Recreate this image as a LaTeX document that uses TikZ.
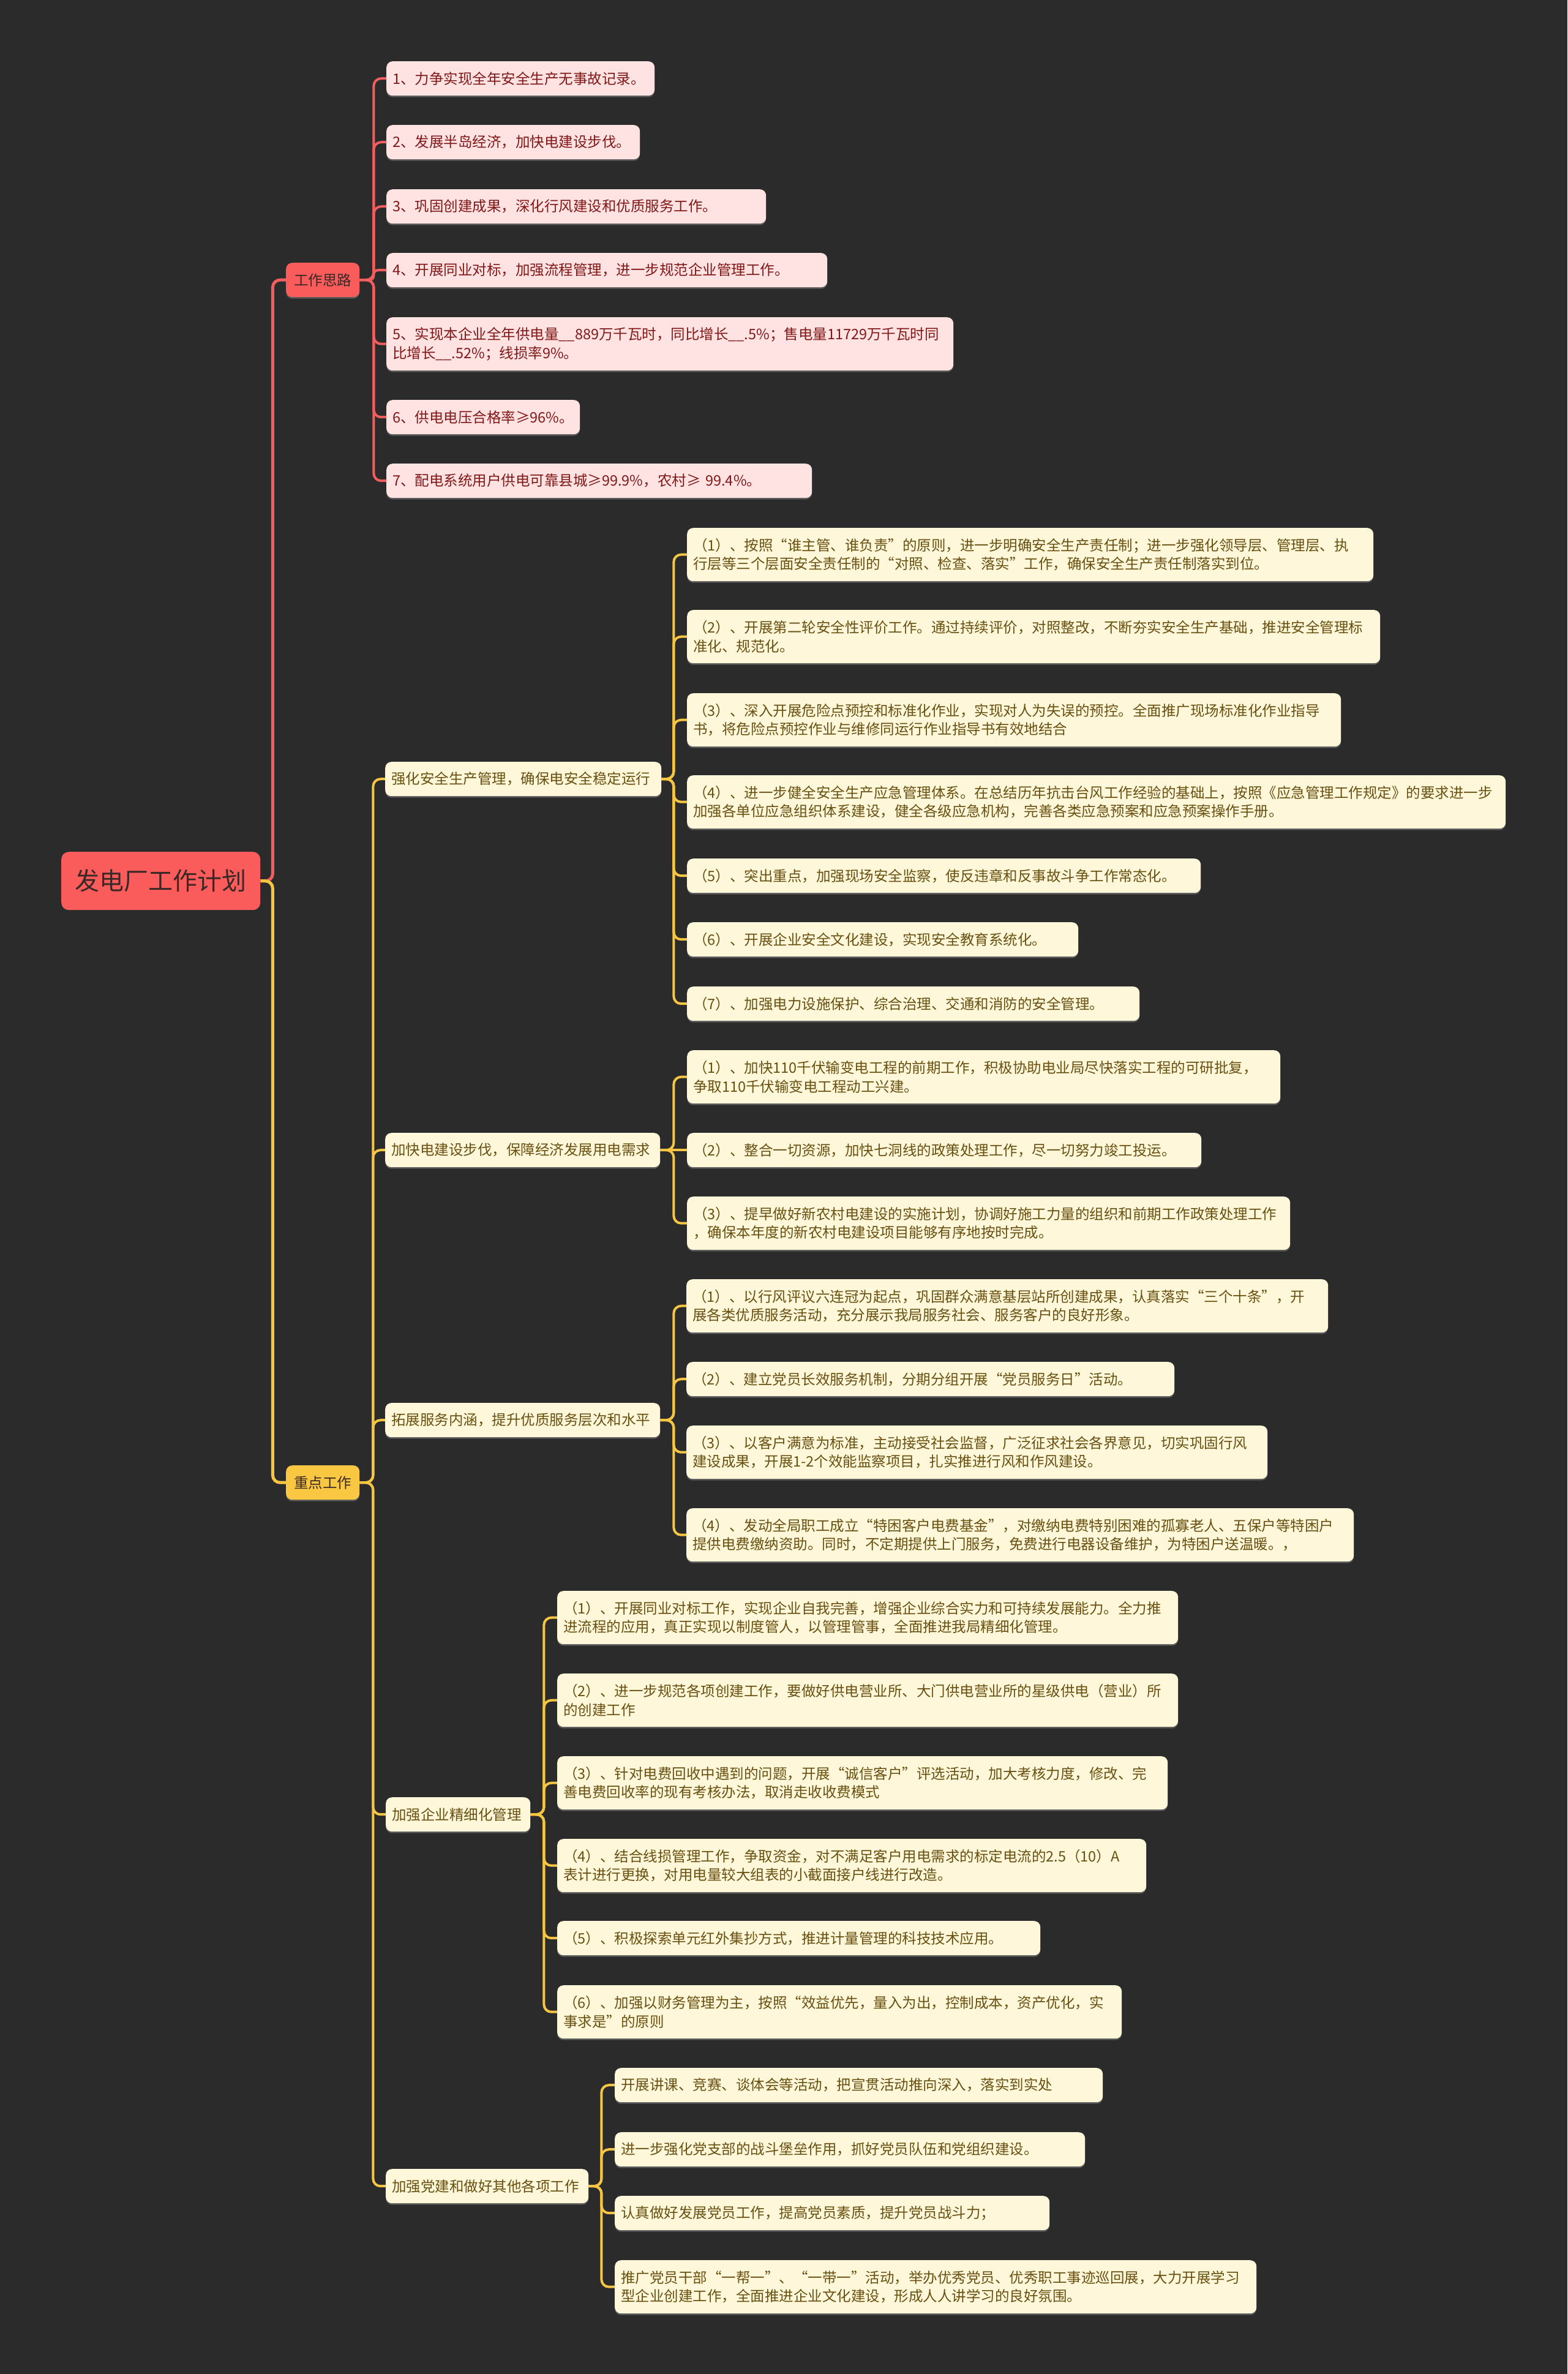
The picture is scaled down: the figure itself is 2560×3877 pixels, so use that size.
\documentclass[tikz,border=0pt]{standalone}
\usepackage{fontspec}
\setmainfont{Noto Sans CJK SC}
\usetikzlibrary{shadows,backgrounds}
\definecolor{bgc}{RGB}{43,43,43}
\definecolor{redfill}{RGB}{250,91,91}
\definecolor{redline}{RGB}{242,94,94}
\definecolor{yelfill}{RGB}{250,199,66}
\definecolor{yelline}{RGB}{246,198,66}
\definecolor{pinkfill}{RGB}{255,226,226}
\definecolor{pinktext}{RGB}{128,24,24}
\definecolor{creamfill}{RGB}{255,247,218}
\definecolor{creamtext}{RGB}{104,80,16}
\definecolor{darktext}{RGB}{58,40,38}
\tikzset{
  sz/.code 2 args={\pgfmathsetmacro\boxtw{#1-20}\pgfkeysalso{text width=\boxtw pt, minimum height=#2pt}},
  basebox/.style={anchor=north west, rounded corners=10pt, align=left, inner xsep=10pt, inner ysep=0pt,
    font=\fontsize{23.5}{30.5}\selectfont,
    drop shadow={shadow xshift=0pt, shadow yshift=-2.5pt, opacity=0.55}},
  pbox/.style={basebox, fill=pinkfill, text=pinktext},
  cbox/.style={basebox, fill=creamfill, text=creamtext},
  lvone/.style={basebox, align=center, inner xsep=13pt, text width=94pt, minimum height=56pt, text=darktext},
  rootbox/.style={anchor=north west, rounded corners=12pt, fill=redfill, text=darktext, align=center,
    text width=281pt, inner xsep=22pt, inner ysep=0pt, minimum height=95pt,
    font=\fontsize{40}{48}\selectfont},
  conn/.style={line width=4pt, rounded corners=12pt},
  rconn/.style={conn, draw=redline},
  yconn/.style={conn, draw=yelline},
}
\begin{document}
\begin{tikzpicture}[x=1pt,y=-1pt]
\useasboundingbox (0,0) rectangle (2560,3877);
\begin{pgfonlayer}{background}
\fill[bgc] (0,0) rectangle (2560,3877);
\end{pgfonlayer}

\node[rootbox] (root) at (100,1391) {发电厂工作计划};
\node[lvone, fill=redfill] (g1) at (467,429) {工作思路};
\node[lvone, fill=yelfill] (g2) at (467,2393) {重点工作};

% 工作思路
\node[pbox, sz={438}{56}] (p1) at (631,100) {1、力争实现全年安全生产无事故记录。};
\node[pbox, sz={414}{56}] (p2) at (631,204) {2、发展半岛经济，加快电建设步伐。};
\node[pbox, sz={620}{56}] (p3) at (631,309) {3、巩固创建成果，深化行风建设和优质服务工作。};
\node[pbox, sz={720}{56}] (p4) at (631,413) {4、开展同业对标，加强流程管理，进一步规范企业管理工作。};
\node[pbox, sz={926}{87}] (p5) at (631,518) {5、实现本企业全年供电量\_\_889万千瓦时，同比增长\_\_.5\%；售电量11729万千瓦时同\\比增长\_\_.52\%；线损率9\%。};
\node[pbox, sz={316}{56}] (p6) at (631,653) {6、供电电压合格率≥96\%。};
\node[pbox, sz={695}{56}] (p7) at (631,757) {7、配电系统用户供电可靠县城≥99.9\%，农村≥ 99.4\%。};

% 强化安全生产管理
\node[cbox, sz={451}{56}] (s0) at (629,1244) {强化安全生产管理，确保电安全稳定运行};
\node[cbox, sz={1121}{87}] (s1) at (1122,862) {（1）、按照“谁主管、谁负责”的原则，进一步明确安全生产责任制；进一步强化领导层、管理层、执\\行层等三个层面安全责任制的“对照、检查、落实”工作，确保安全生产责任制落实到位。};
\node[cbox, sz={1132}{87}] (s2) at (1122,996) {（2）、开展第二轮安全性评价工作。通过持续评价，对照整改，不断夯实安全生产基础，推进安全管理标\\准化、规范化。};
\node[cbox, sz={1068}{87}] (s3) at (1122,1132) {（3）、深入开展危险点预控和标准化作业，实现对人为失误的预控。全面推广现场标准化作业指导\\书，将危险点预控作业与维修同运行作业指导书有效地结合};
\node[cbox, sz={1337}{87}] (s4) at (1122,1266) {（4）、进一步健全安全生产应急管理体系。在总结历年抗击台风工作经验的基础上，按照《应急管理工作规定》的要求进一步\\加强各单位应急组织体系建设，健全各级应急机构，完善各类应急预案和应急预案操作手册。};
\node[cbox, sz={839}{56}] (s5) at (1122,1402) {（5）、突出重点，加强现场安全监察，使反违章和反事故斗争工作常态化。};
\node[cbox, sz={639}{56}] (s6) at (1122,1506) {（6）、开展企业安全文化建设，实现安全教育系统化。};
\node[cbox, sz={739}{56}] (s7) at (1122,1611) {（7）、加强电力设施保护、综合治理、交通和消防的安全管理。};

% 加快电建设步伐
\node[cbox, sz={449}{56}] (k0) at (629,1850) {加快电建设步伐，保障经济发展用电需求};
\node[cbox, sz={969}{87}] (k1) at (1122,1715) {（1）、加快110千伏输变电工程的前期工作，积极协助电业局尽快落实工程的可研批复，\\争取110千伏输变电工程动工兴建。};
\node[cbox, sz={840}{56}] (k2) at (1122,1850) {（2）、整合一切资源，加快七洞线的政策处理工作，尽一切努力竣工投运。};
\node[cbox, sz={985}{87}] (k3) at (1122,1954) {（3）、提早做好新农村电建设的实施计划，协调好施工力量的组织和前期工作政策处理工作\\，确保本年度的新农村电建设项目能够有序地按时完成。};

% 拓展服务内涵
\node[cbox, sz={449}{56}] (t0) at (629,2291) {拓展服务内涵，提升优质服务层次和水平};
\node[cbox, sz={1048}{87}] (t1) at (1121,2089) {（1）、以行风评议六连冠为起点，巩固群众满意基层站所创建成果，认真落实“三个十条”，开\\展各类优质服务活动，充分展示我局服务社会、服务客户的良好形象。};
\node[cbox, sz={797}{56}] (t2) at (1121,2224) {（2）、建立党员长效服务机制，分期分组开展“党员服务日”活动。};
\node[cbox, sz={949}{87}] (t3) at (1121,2328) {（3）、以客户满意为标准，主动接受社会监督，广泛征求社会各界意见，切实巩固行风\\建设成果，开展1-2个效能监察项目，扎实推进行风和作风建设。};
\node[cbox, sz={1090}{87}] (t4) at (1121,2463) {（4）、发动全局职工成立“特困客户电费基金”，对缴纳电费特别困难的孤寡老人、五保户等特困户\\提供电费缴纳资助。同时，不定期提供上门服务，免费进行电器设备维护，为特困户送温暖。，};

% 加强企业精细化管理
\node[cbox, sz={236}{56}] (e0) at (630,2935) {加强企业精细化管理};
\node[cbox, sz={1014}{87}] (e1) at (910,2598) {（1）、开展同业对标工作，实现企业自我完善，增强企业综合实力和可持续发展能力。全力推\\进流程的应用，真正实现以制度管人，以管理管事，全面推进我局精细化管理。};
\node[cbox, sz={1014}{87}] (e2) at (910,2733) {（2）、进一步规范各项创建工作，要做好供电营业所、大门供电营业所的星级供电（营业）所\\的创建工作};
\node[cbox, sz={997}{87}] (e3) at (910,2868) {（3）、针对电费回收中遇到的问题，开展“诚信客户”评选活动，加大考核力度，修改、完\\善电费回收率的现有考核办法，取消走收收费模式};
\node[cbox, sz={962}{87}] (e4) at (910,3003) {（4）、结合线损管理工作，争取资金，对不满足客户用电需求的标定电流的2.5（10）A\\表计进行更换，对用电量较大组表的小截面接户线进行改造。};
\node[cbox, sz={789}{56}] (e5) at (910,3137) {（5）、积极探索单元红外集抄方式，推进计量管理的科技技术应用。};
\node[cbox, sz={922}{87}] (e6) at (910,3242) {（6）、加强以财务管理为主，按照“效益优先，量入为出，控制成本，资产优化，实\\事求是”的原则};

% 加强党建
\node[cbox, sz={331}{56}] (d0) at (630,3542) {加强党建和做好其他各项工作};
\node[cbox, sz={797}{56}] (d1) at (1004,3377) {开展讲课、竞赛、谈体会等活动，把宣贯活动推向深入，落实到实处};
\node[cbox, sz={768}{56}] (d2) at (1004,3482) {进一步强化党支部的战斗堡垒作用，抓好党员队伍和党组织建设。};
\node[cbox, sz={710}{56}] (d3) at (1004,3586) {认真做好发展党员工作，提高党员素质，提升党员战斗力；};
\node[cbox, sz={1048}{87}] (d4) at (1004,3691) {推广党员干部“一帮一”、“一带一”活动，举办优秀党员、优秀职工事迹巡回展，大力开展学习\\型企业创建工作，全面推进企业文化建设，形成人人讲学习的良好氛围。};

\begin{pgfonlayer}{background}
\draw[rconn, line width=5pt] (root.east) -- ++(20,0) |- (g1.west);
\draw[yconn, line width=5pt] (root.east) -- ++(20,0) |- (g2.west);
\foreach \c in {p1,p2,p3,p5,p6,p7} \draw[rconn] (g1.east) -- ++(23,0) |- (\c.west);
\draw[rconn, rounded corners=7pt] (g1.east) -- ++(23,0) |- (p4.west);
\foreach \c in {s0,k0,t0,e0,d0} \draw[yconn] (g2.east) -- ++(22,0) |- (\c.west);
\foreach \c in {s1,s2,s3,s4,s5,s6,s7} \draw[yconn] (s0.east) -- ++(20,0) |- (\c.west);
\foreach \c in {k1,k3} \draw[yconn] (k0.east) -- ++(22,0) |- (\c.west);
\draw[yconn] (k0.east) -- (k2.west);
\foreach \c in {t1,t2,t3,t4} \draw[yconn] (t0.east) -- ++(22,0) |- (\c.west);
\foreach \c in {e1,e2,e3,e4,e5,e6} \draw[yconn] (e0.east) -- ++(22,0) |- (\c.west);
\foreach \c in {d1,d2,d3,d4} \draw[yconn] (d0.east) -- ++(21,0) |- (\c.west);
\end{pgfonlayer}
\end{tikzpicture}
\end{document}
